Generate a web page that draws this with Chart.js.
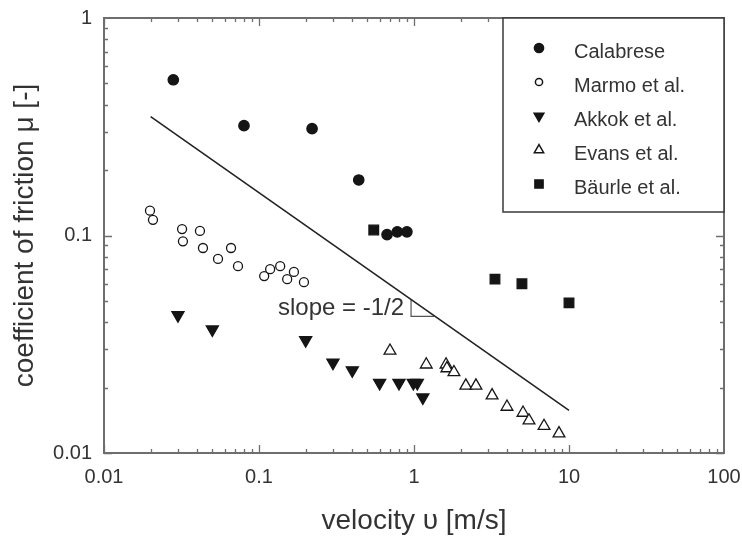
<!DOCTYPE html>
<html>
<head>
<meta charset="utf-8">
<script src="https://cdn.jsdelivr.net/npm/chart.js@4/dist/chart.umd.min.js"></script>
<style>
  body { margin: 0; background: #fff; }
  canvas { display: block; }
</style>
</head>
<body>
<canvas id="frictionChart" width="742" height="538"></canvas>
<script>
// ===================
// Data
// ===================
const calabreseV = [0.028, 0.080, 0.22, 0.44, 0.67, 0.78, 0.90];
const calabreseMu = [0.52, 0.32, 0.31, 0.18, 0.101, 0.104, 0.104];

const marmoV = [0.0198, 0.0207, 0.0319, 0.0323, 0.0416, 0.0435, 0.0544, 0.066, 0.0732, 0.108, 0.118, 0.137, 0.152, 0.168, 0.195];
const marmoMu = [0.130, 0.118, 0.107, 0.094, 0.105, 0.0876, 0.078, 0.0876, 0.0723, 0.0651, 0.070, 0.0723, 0.063, 0.068, 0.061];

const akkokV = [0.030, 0.050, 0.20, 0.30, 0.40, 0.60, 0.80, 0.99, 1.05, 1.14];
const akkokMu = [0.043, 0.037, 0.033, 0.026, 0.024, 0.021, 0.021, 0.021, 0.021, 0.018];

const evansV = [0.70, 1.20, 1.61, 1.63, 1.81, 2.16, 2.51, 3.19, 3.98, 5.05, 5.52, 6.90, 8.62];
const evansMu = [0.0295, 0.0255, 0.0255, 0.0245, 0.0235, 0.0204, 0.0204, 0.0184, 0.0163, 0.0153, 0.0141, 0.0133, 0.0123];

const baurleV = [0.55, 3.33, 4.97, 10.0];
const baurleMu = [0.106, 0.063, 0.060, 0.049];

// slope -1/2 guide line and its little triangle
const guideV = [0.02, 10];
const guideMu = [0.352, 0.0157];
const triV = [0.957, 0.957, 1.35];
const triMu = [0.0509, 0.0425, 0.0425];
const slopeText = 'slope = -1/2';

const xTickValues = [0.01, 0.1, 1, 10, 100];
const yTickValues = [0.01, 0.1, 1];
const legendLabels = ['Calabrese', 'Marmo et al.', 'Akkok et al.', 'Evans et al.', 'Bäurle et al.'];

const pts = (xs, ys) => xs.map((x, i) => ({ x: x, y: ys[i] }));

const INK = '#151515';
const AXIS = '#6e6e6e';
const TEXT = '#333333';
const FONT = "'Liberation Sans', Arial, sans-serif";

const markerStyles = [
  { pointStyle: 'circle', radius: 5.2, rotation: 0, fill: INK, legendRadius: 4.6 },
  { pointStyle: 'circle', radius: 4.5, rotation: 0, fill: '#ffffff', legendRadius: 3.6 },
  { pointStyle: 'triangle', radius: 7, rotation: 180, fill: INK, legendRadius: 5.6 },
  { pointStyle: 'triangle', radius: 6.8, rotation: 0, fill: '#ffffff', legendRadius: 5.4 },
  { pointStyle: 'rect', radius: 6.8, rotation: 0, fill: INK, legendRadius: 5.8 }
];
const seriesData = [
  pts(calabreseV, calabreseMu),
  pts(marmoV, marmoMu),
  pts(akkokV, akkokMu),
  pts(evansV, evansMu),
  pts(baurleV, baurleMu)
];

const markerSets = seriesData.map((d, i) => ({
  label: legendLabels[i],
  data: d,
  pointStyle: markerStyles[i].pointStyle,
  rotation: markerStyles[i].rotation,
  pointRadius: markerStyles[i].radius,
  pointBackgroundColor: markerStyles[i].fill,
  pointBorderColor: INK,
  pointBorderWidth: 1.3,
  showLine: false
}));

// ===================
// Frame, inward ticks, legend box, slope label
// ===================
const framePlugin = {
  id: 'frame',
  afterDatasetsDraw(chart) {
    const { ctx, chartArea: a, scales } = chart;
    const xs = scales.x, ys = scales.y;
    ctx.save();
    ctx.strokeStyle = AXIS;
    ctx.lineWidth = 2;
    ctx.strokeRect(a.left, a.top, a.right - a.left, a.bottom - a.top);

    ctx.lineWidth = 1.3;
    ctx.beginPath();
    for (let d = 0; d < xTickValues.length - 1; d++) {
      for (let m = 1; m <= 9; m++) {
        const px = Math.round(xs.getPixelForValue(xTickValues[d] * m)) + 0.5;
        const len = m === 1 ? 8 : 4;
        ctx.moveTo(px, a.bottom); ctx.lineTo(px, a.bottom - len);
        ctx.moveTo(px, a.top); ctx.lineTo(px, a.top + len);
      }
    }
    for (let d = 0; d < yTickValues.length - 1; d++) {
      for (let m = 1; m <= 9; m++) {
        const py = Math.round(ys.getPixelForValue(yTickValues[d] * m)) + 0.5;
        const len = m === 1 ? 8 : 4;
        ctx.moveTo(a.left, py); ctx.lineTo(a.left + len, py);
        ctx.moveTo(a.right, py); ctx.lineTo(a.right - len, py);
      }
    }
    ctx.stroke();

    // slope label, sits just left of the triangle
    ctx.fillStyle = TEXT;
    ctx.font = '24px ' + FONT;
    ctx.textAlign = 'right';
    ctx.textBaseline = 'middle';
    ctx.fillText(slopeText, xs.getPixelForValue(triV[0]) - 7, ys.getPixelForValue(0.0463));

    // legend box in the upper right corner
    const bw = 221, bh = 194;
    const bx = a.right - bw, by = a.top;
    ctx.fillStyle = '#ffffff';
    ctx.fillRect(bx, by, bw, bh);
    ctx.strokeStyle = '#3a3a3a';
    ctx.lineWidth = 1.5;
    ctx.strokeRect(bx, by, bw, bh);

    ctx.font = '20px ' + FONT;
    ctx.textAlign = 'left';
    legendLabels.forEach((lab, i) => {
      const ty = by + 34 + i * 34;
      const st = markerStyles[i];
      ctx.fillStyle = st.fill;
      ctx.strokeStyle = INK;
      Chart.helpers.drawPoint(ctx, {
        pointStyle: st.pointStyle,
        rotation: st.rotation,
        radius: st.legendRadius,
        borderWidth: 1.1
      }, bx + 36, ty - 4);
      ctx.fillStyle = TEXT;
      ctx.fillText(lab, bx + 71, ty);
    });
    ctx.restore();
  }
};

const ctx = document.getElementById('frictionChart').getContext('2d');

new Chart(ctx, {
  type: 'scatter',
  data: {
    datasets: [
      ...markerSets,
      {
        label: 'guide',
        data: pts(guideV, guideMu),
        showLine: true,
        borderColor: '#222222',
        borderWidth: 1.6,
        pointRadius: 0
      },
      {
        label: 'triangle',
        data: pts(triV, triMu),
        showLine: true,
        borderColor: '#555555',
        borderWidth: 1.2,
        pointRadius: 0
      }
    ]
  },
  options: {
    responsive: false,
    animation: false,
    layout: { padding: { left: 0, top: 18, right: 18, bottom: 0 } },
    plugins: {
      legend: { display: false },
      tooltip: { enabled: false }
    },
    scales: {
      x: {
        type: 'logarithmic',
        min: 0.01,
        max: 100,
        afterBuildTicks: (s) => { s.ticks = xTickValues.map(v => ({ value: v })); },
        afterFit: (s) => { s.height = 85; s.paddingLeft = 0; s.paddingRight = 0; },
        grid: { display: false, drawTicks: false },
        border: { display: false },
        ticks: {
          color: TEXT,
          padding: 12,
          maxRotation: 0,
          autoSkip: false,
          font: { family: FONT, size: 20 },
          callback: (v) => String(v)
        },
        title: {
          display: true,
          text: 'velocity υ [m/s]',
          color: TEXT,
          font: { family: FONT, size: 28 },
          padding: { top: 0, bottom: 0 }
        }
      },
      y: {
        type: 'logarithmic',
        min: 0.01,
        max: 1,
        afterBuildTicks: (s) => { s.ticks = yTickValues.map(v => ({ value: v })); },
        afterFit: (s) => { s.width = 104; s.paddingTop = 0; s.paddingBottom = 0; },
        grid: { display: false, drawTicks: false },
        border: { display: false },
        ticks: {
          color: TEXT,
          padding: 12,
          autoSkip: false,
          font: { family: FONT, size: 20 },
          callback: (v) => String(v)
        },
        title: {
          display: true,
          text: 'coefficient of friction μ [-]',
          color: TEXT,
          font: { family: FONT, size: 28 },
          padding: { top: 8, bottom: 0 }
        }
      }
    }
  },
  plugins: [framePlugin]
});
</script>
</body>
</html>
